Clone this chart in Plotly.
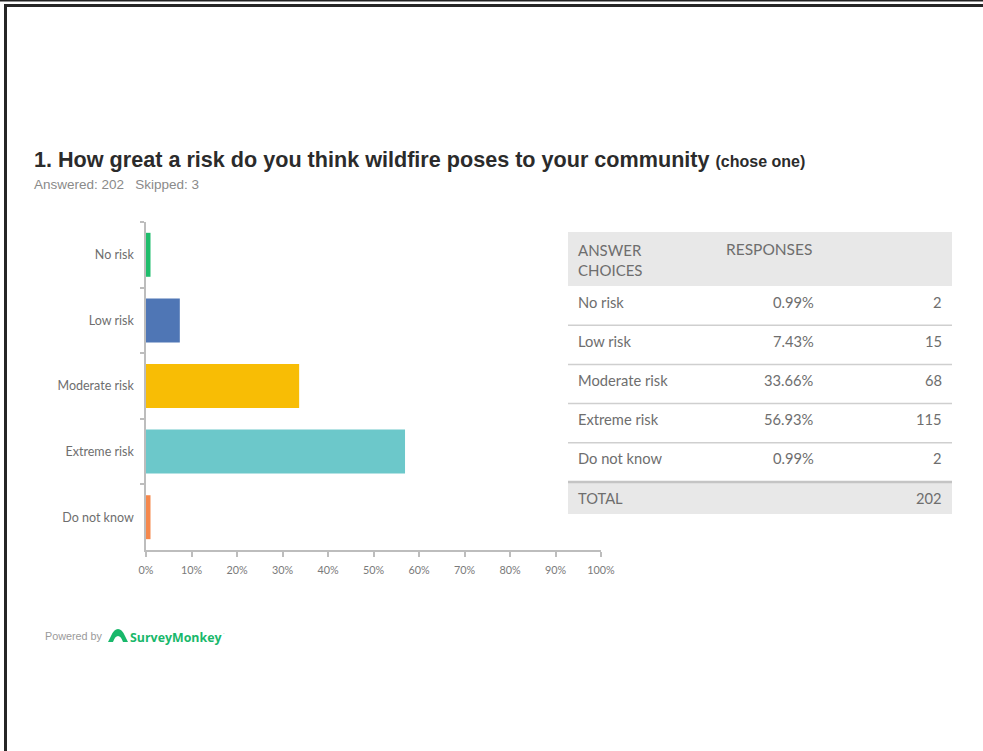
import plotly.graph_objects as go

# Survey question results
choices = ["No risk", "Low risk", "Moderate risk", "Extreme risk", "Do not know"]
percents = [0.99, 7.43, 33.66, 56.93, 0.99]
counts = [2, 15, 68, 115, 2]
bar_colors = ["#1fbd6c", "#4f76b5", "#f8bd05", "#6cc8ca", "#f5884c"]
x_ticks = [0, 10, 20, 30, 40, 50, 60, 70, 80, 90, 100]
total = sum(counts)

title_text = "1. How great a risk do you think wildfire poses to your community"
subtitle_text = "Answered: 202&nbsp;&nbsp;&nbsp;Skipped: 3"

W, H = 983, 751


def px(x):
    return x / W


def py(y):
    return 1 - y / H


GRAY_TXT = "#6e6e6e"
FONT = "Lato, 'Open Sans', sans-serif"
ARIAL = "'Liberation Sans', Arial, sans-serif"

fig = go.Figure()
fig.add_trace(go.Bar(
    y=choices,
    x=percents,
    orientation="h",
    width=0.67,
    marker=dict(color=bar_colors, line=dict(width=0)),
    hovertemplate="%{y}: %{x:.2f}%<extra></extra>",
))

shapes = []
annotations = []

# page frame
shapes.append(dict(type="line", xref="paper", yref="paper",
                   x0=0, x1=1, y0=py(0.8), y1=py(0.8),
                   line=dict(color="#222", width=1.5)))
shapes.append(dict(type="line", xref="paper", yref="paper",
                   x0=px(4), x1=1, y0=py(5.5), y1=py(5.5),
                   line=dict(color="#262626", width=3)))
shapes.append(dict(type="line", xref="paper", yref="paper",
                   x0=px(5.5), x1=px(5.5), y0=py(4), y1=0,
                   line=dict(color="#262626", width=3)))

# title and subtitle
annotations.append(dict(
    xref="paper", yref="paper", x=px(32), y=py(159), xanchor="left", yanchor="middle",
    text="<b>" + title_text + "</b> <b><span style='font-size:16px'>(chose one)</span></b>",
    showarrow=False, font=dict(family=ARIAL, size=21.6, color="#2b2b2b")))
annotations.append(dict(
    xref="paper", yref="paper", x=px(32), y=py(185), xanchor="left", yanchor="middle",
    text=subtitle_text, showarrow=False,
    font=dict(family=ARIAL, size=13.5, color="#8a8a8a")))

# response table
tx0, tx1 = 568, 952
col_pct = 814
col_cnt = 942
TS = 14.7
shapes.append(dict(type="rect", xref="paper", yref="paper",
                   x0=px(tx0), x1=px(tx1), y0=py(286), y1=py(232),
                   fillcolor="#e8e8e8", line=dict(width=0), layer="below"))
annotations.append(dict(xref="paper", yref="paper", x=px(576), y=py(260),
                        xanchor="left", yanchor="middle", align="left",
                        text="ANSWER<br>CHOICES", showarrow=False,
                        font=dict(family=FONT, size=15, color=GRAY_TXT)))
annotations.append(dict(xref="paper", yref="paper", x=px(724), y=py(249),
                        xanchor="left", yanchor="middle",
                        text="RESPONSES", showarrow=False,
                        font=dict(family=FONT, size=15.5, color=GRAY_TXT)))

row_top = 286
row_h = 39.2
for i, (c, p, n) in enumerate(zip(choices, percents, counts)):
    yc = row_top + row_h * i + 15.5
    annotations.append(dict(xref="paper", yref="paper", x=px(576), y=py(yc),
                            xanchor="left", yanchor="middle", text=c, showarrow=False,
                            font=dict(family=FONT, size=TS, color=GRAY_TXT)))
    annotations.append(dict(xref="paper", yref="paper", x=px(col_pct + 2), y=py(yc),
                            xanchor="right", yanchor="middle", text=f"{p:.2f}%", showarrow=False,
                            font=dict(family=FONT, size=TS, color=GRAY_TXT)))
    annotations.append(dict(xref="paper", yref="paper", x=px(col_cnt + 2), y=py(yc),
                            xanchor="right", yanchor="middle", text=str(n), showarrow=False,
                            font=dict(family=FONT, size=TS, color=GRAY_TXT)))
    ysep = row_top + row_h * (i + 1)
    if i < len(choices) - 1:
        shapes.append(dict(type="line", xref="paper", yref="paper",
                           x0=px(tx0), x1=px(tx1), y0=py(ysep), y1=py(ysep),
                           line=dict(color="#cfcfcf", width=1.5)))

# total row
ytot = row_top + row_h * len(choices)
shapes.append(dict(type="rect", xref="paper", yref="paper",
                   x0=px(tx0), x1=px(tx1), y0=py(ytot + 32), y1=py(ytot),
                   fillcolor="#e8e8e8", line=dict(width=0), layer="below"))
shapes.append(dict(type="line", xref="paper", yref="paper",
                   x0=px(tx0), x1=px(tx1), y0=py(ytot), y1=py(ytot),
                   line=dict(color="#c4c4c4", width=2.5)))
annotations.append(dict(xref="paper", yref="paper", x=px(576), y=py(ytot + 16),
                        xanchor="left", yanchor="middle", text="TOTAL", showarrow=False,
                        font=dict(family=FONT, size=TS, color=GRAY_TXT)))
annotations.append(dict(xref="paper", yref="paper", x=px(col_cnt + 2), y=py(ytot + 16),
                        xanchor="right", yanchor="middle", text=str(total), showarrow=False,
                        font=dict(family=FONT, size=TS, color=GRAY_TXT)))

# footer logo
annotations.append(dict(xref="paper", yref="paper", x=px(43), y=py(636),
                        xanchor="left", yanchor="middle", text="Powered by", showarrow=False,
                        font=dict(family=ARIAL, size=10.8, color="#9a9a9a")))
annotations.append(dict(xref="paper", yref="paper", x=px(128), y=py(637),
                        xanchor="left", yanchor="middle", text="<b>SurveyMonkey</b>",
                        showarrow=False,
                        font=dict(family="'Open Sans', sans-serif", size=12.4, color="#19b86b")))
annotations.append(dict(xref="paper", yref="paper", x=px(221), y=py(633),
                        xanchor="left", yanchor="middle", text="·", showarrow=False,
                        font=dict(family="'Open Sans', sans-serif", size=6, color="#19b86b")))
# monkey mark
cx, cy = 118, 636
path = (f"M {px(cx-10)},{py(cy+6)} "
        f"L {px(cx-7)},{py(cy)} "
        f"Q {px(cx-4)},{py(cy-7)} {px(cx)},{py(cy-7)} "
        f"Q {px(cx+4)},{py(cy-7)} {px(cx+7)},{py(cy)} "
        f"L {px(cx+10)},{py(cy+6)} "
        f"L {px(cx+5)},{py(cy+6)} "
        f"Q {px(cx+3)},{py(cy)} {px(cx)},{py(cy)} "
        f"Q {px(cx-3)},{py(cy)} {px(cx-5)},{py(cy+6)} Z")
shapes.append(dict(type="path", xref="paper", yref="paper", path=path,
                   fillcolor="#19b86b", line=dict(width=0)))

fig.update_layout(
    width=W, height=H,
    autosize=False,
    margin=dict(l=0, r=0, t=0, b=0, autoexpand=False),
    paper_bgcolor="white",
    plot_bgcolor="white",
    showlegend=False,
    shapes=shapes,
    annotations=annotations,
    xaxis=dict(
        domain=[px(146), px(601)],
        range=[0, 100],
        tickvals=x_ticks,
        ticktext=[f"{v}%" for v in x_ticks],
        automargin=False,
        showgrid=False, zeroline=False,
        showline=True, linecolor="#bdbdbd", linewidth=1.5,
        ticks="outside", ticklen=5, tickcolor="#bdbdbd", tickwidth=1.5,
        ticklabelstandoff=4,
        tickfont=dict(family=FONT, size=10.8, color="#7a7a7a"),
        fixedrange=True,
    ),
    yaxis=dict(
        domain=[py(550), py(222)],
        autorange="reversed",
        automargin=False,
        showgrid=False, zeroline=False,
        showline=True, linecolor="#bdbdbd", linewidth=1.5,
        ticks="outside", ticklen=4, tickcolor="#bdbdbd", tickwidth=1.5,
        tickson="boundaries",
        ticklabelstandoff=8,
        tickfont=dict(family=FONT, size=12.5, color="#6e6e6e"),
        fixedrange=True,
    ),
)

fig.write_html("out.html")
